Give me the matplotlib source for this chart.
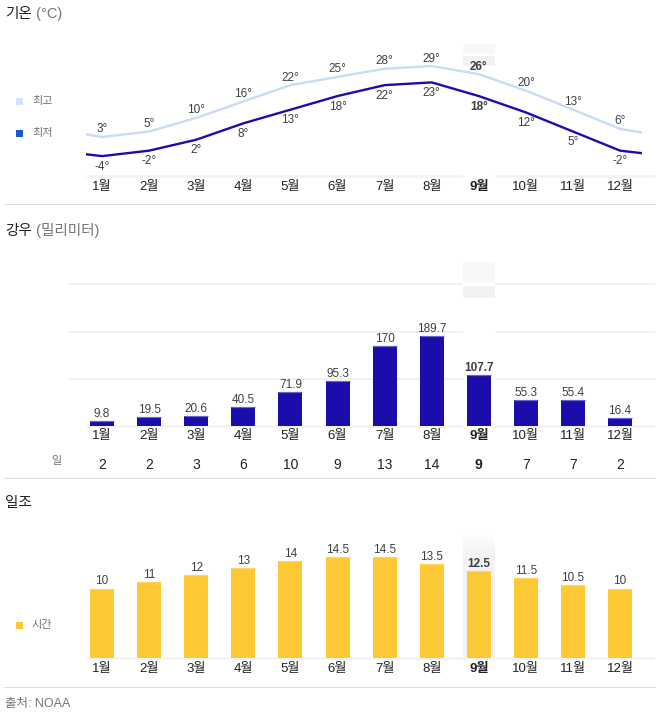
import matplotlib
matplotlib.use('Agg')
import matplotlib.pyplot as plt
from matplotlib.patches import Rectangle
from matplotlib.lines import Line2D
from matplotlib.text import Annotation
from matplotlib.transforms import blended_transform_factory
import numpy as np

plt.rcParams['font.family'] = ['Liberation Sans', 'Noto Sans CJK KR', 'DejaVu Sans']

# ---------------- data ----------------
months = ['1월', '2월', '3월', '4월', '5월', '6월', '7월', '8월', '9월', '10월', '11월', '12월']
temp_high = [3, 5, 10, 16, 22, 25, 28, 29, 26, 20, 13, 6]
temp_low = [-4, -2, 2, 8, 13, 18, 22, 23, 18, 12, 5, -2]
rain_mm = [9.8, 19.5, 20.6, 40.5, 71.9, 95.3, 170, 189.7, 107.7, 55.3, 55.4, 16.4]
rain_days = [2, 2, 3, 6, 10, 9, 13, 14, 9, 7, 7, 2]
sun_hours = [10, 11, 12, 13, 14, 14.5, 14.5, 13.5, 12.5, 11.5, 10.5, 10]
current_month = 9

# ---------------- style ----------------
C_DARK = '#202124'
C_TXT = '#3c4043'
C_GRAY = '#70757a'
C_HIGH = '#c9dbf8'
C_LOW = '#1a0dab'
C_LOW_LEG = '#1558d6'
C_RAIN = '#1a0dab'
C_SUN = '#fcc834'
C_BASE = '#f1f3f4'
C_GRID = '#eeeeee'
C_SEP = '#dadce0'

W, H = 659, 718
fig = plt.figure(figsize=(W / 100, H / 100), dpi=100)
fig.patch.set_facecolor('white')

X0_PX, DX_PX = 102, 47.1


def mx(px):
    return 1 + (px - X0_PX) / DX_PX


def fy(py):
    return 1 - py / H


def pt(px):
    return px * 72 / 100


def add_ax(left, top, right, bottom):
    ax = fig.add_axes([left / W, 1 - bottom / H, (right - left) / W, (bottom - top) / H])
    ax.set_xlim(mx(left), mx(right))
    ax.axis('off')
    ax.patch.set_visible(False)
    return ax


def hline_px(y, x0, x1, color, lw_px, z=-1):
    fig.add_artist(Line2D([x0 / W, x1 / W], [fy(y), fy(y)], transform=fig.transFigure,
                          color=color, lw=pt(lw_px), zorder=z, solid_capstyle='butt'))


def column_rects(ax, spans):
    tr = blended_transform_factory(ax.transData, fig.transFigure)
    half = 16 / DX_PX
    for (y0, y1, col) in spans:
        ax.add_patch(Rectangle((current_month - half, fy(y1)), 2 * half, fy(y0) - fy(y1),
                               transform=tr, facecolor=col, edgecolor='none', zorder=0.5,
                               clip_on=False))


def title(y, main, sub):
    t = fig.text(5 / W, fy(y), main, ha='left', va='center', fontsize=10.5, color=C_DARK)
    if sub:
        a = Annotation(sub, xy=(1, 0.5), xycoords=t, ha='left', va='center',
                       fontsize=10.5, color=C_GRAY)
        fig.add_artist(a)


def legend_item(y, color, label):
    s = 7
    fig.add_artist(Rectangle(((19.5 - s / 2) / W, fy(y + s / 2)), s / W, s / H,
                             transform=fig.transFigure, facecolor=color, edgecolor='none'))
    fig.text(32 / W, fy(y), label, ha='left', va='center', fontsize=8, color=C_GRAY)


def month_labels(ax, y):
    tr = blended_transform_factory(ax.transData, fig.transFigure)
    for i, m in enumerate(months):
        cur = (i + 1) == current_month
        ax.text(i + 1, fy(y), m, transform=tr, ha='center', va='center', fontsize=9.5,
                color=C_DARK, fontweight='bold' if cur else 'normal', clip_on=False)


x = np.arange(1, 13)

# ================= 기온 =================
title(14, '기온', ' (°C)')
legend_item(101, '#d2e3fc', '최고')
legend_item(133, C_LOW_LEG, '최저')

ax_t = add_ax(69, 40, 655, 182)


def T(py):
    return 3 - (py - 137) / 2.73


ax_t.set_ylim(T(182), T(40))
hline_px(175.5, 86, 655, C_BASE, 2.5)
hline_px(204, 4, 655, C_SEP, 1)
column_rects(ax_t, [(44, 54, '#f8f8f8'), (54, 56, 'white'), (56, 66, '#f2f2f2'), (66, 180, 'white')])

# wrapped lines (Dec -> Jan continuity), clipped at the chart edges
xw = np.concatenate([[0], x, [13]])
hw = np.concatenate([[temp_high[-1]], temp_high, [temp_high[0]]])
lw_ = np.concatenate([[temp_low[-1]], temp_low, [temp_low[0]]])
clip = Rectangle((mx(86), -100), mx(642) - mx(86), 300, transform=ax_t.transData)
for vals, col in ((hw, C_HIGH), (lw_, C_LOW)):
    ln, = ax_t.plot(xw, vals, color=col, lw=1.7, zorder=2, solid_joinstyle='round')
    ln.set_clip_path(clip)

for i in range(12):
    cur = (i + 1) == current_month
    fw = 'bold' if cur else 'normal'
    ax_t.annotate(f'{temp_high[i]}°', (x[i], temp_high[i]), xytext=(0, pt(4.5)),
                  textcoords='offset points', ha='center', va='baseline', fontsize=8.5,
                  color=C_TXT, fontweight=fw, zorder=3)
    ax_t.annotate(f'{temp_low[i]}°', (x[i], temp_low[i]), xytext=(0, -pt(13.5)),
                  textcoords='offset points', ha='center', va='baseline', fontsize=8.5,
                  color=C_TXT, fontweight=fw, zorder=3)
month_labels(ax_t, 187)

# ================= 강우 =================
title(231, '강우', ' (밀리미터)')
ax_r = add_ax(69, 255, 655, 430)
RS = 0.472
ax_r.set_ylim(-(430 - 426) / RS, (426 - 255) / RS)
for g in (100, 200, 300):
    ax_r.plot([mx(69), mx(655)], [g, g], color=C_GRID, lw=pt(1.6), zorder=0.2,
              solid_capstyle='butt')
ax_r.plot([mx(86), mx(655)], [0, 0], color=C_BASE, lw=pt(2.5), zorder=0.2,
          solid_capstyle='butt')
column_rects(ax_r, [(262, 283, '#f8f8f8'), (283, 286, 'white'), (286, 298, '#f2f2f2'),
                    (298, 430, 'white')])
bw = 24 / DX_PX
ax_r.bar(x, rain_mm, width=bw, color=C_RAIN, zorder=2)
ax_r.hlines(rain_mm, x - bw / 2, x + bw / 2, color='#6b63cc', lw=pt(1.2), zorder=2.5)
for i in range(12):
    cur = (i + 1) == current_month
    ax_r.annotate(f'{rain_mm[i]:g}', (x[i], rain_mm[i]), xytext=(0, pt(4)),
                  textcoords='offset points', ha='center', va='baseline', fontsize=8.5,
                  color=C_TXT, fontweight='bold' if cur else 'normal', zorder=3)
month_labels(ax_r, 436.5)
tr_r = blended_transform_factory(ax_r.transData, fig.transFigure)
for i in range(12):
    cur = (i + 1) == current_month
    ax_r.text(x[i], fy(465), str(rain_days[i]), transform=tr_r, ha='center', va='center',
              fontsize=10, color=C_DARK, fontweight='bold' if cur else 'normal', clip_on=False)
fig.text(56 / W, fy(461.5), '일', ha='center', va='center', fontsize=8, color=C_GRAY)
hline_px(477.5, 4, 655, C_SEP, 1)

# ================= 일조 =================
title(503, '일조', None)
legend_item(625, C_SUN, '시간')
ax_s = add_ax(69, 525, 655, 661)
SS = 6.9
ax_s.set_ylim(-(661 - 657.5) / SS, (657.5 - 525) / SS)
ax_s.plot([mx(86), mx(655)], [0, 0], color=C_BASE, lw=pt(2.5), zorder=0.2,
          solid_capstyle='butt')
grad = [(535 + k * 3, 538 + k * 3, c) for k, c in enumerate(
    ['#fdfdfd', '#fbfbfb', '#f9f9f9', '#f7f7f7', '#f5f5f5', '#f4f4f4', '#f3f3f3', '#f2f2f2'])]
column_rects(ax_s, grad + [(559, 659, '#f2f2f2')])
ax_s.bar(x, sun_hours, width=bw, color=C_SUN, zorder=2)
ax_s.hlines(sun_hours, x - bw / 2, x + bw / 2, color='#fdd663', lw=pt(1.2), zorder=2.5)
for i in range(12):
    cur = (i + 1) == current_month
    ax_s.annotate(f'{sun_hours[i]:g}', (x[i], sun_hours[i]), xytext=(0, pt(4)),
                  textcoords='offset points', ha='center', va='baseline', fontsize=8.5,
                  color=C_TXT, fontweight='bold' if cur else 'normal', zorder=3)
month_labels(ax_s, 669)
hline_px(686.5, 4, 655, C_SEP, 1)

fig.text(5 / W, fy(704.5), '출처: NOAA', ha='left', va='center', fontsize=9, color=C_GRAY)

fig.savefig('out.png', dpi=100, facecolor='white')
